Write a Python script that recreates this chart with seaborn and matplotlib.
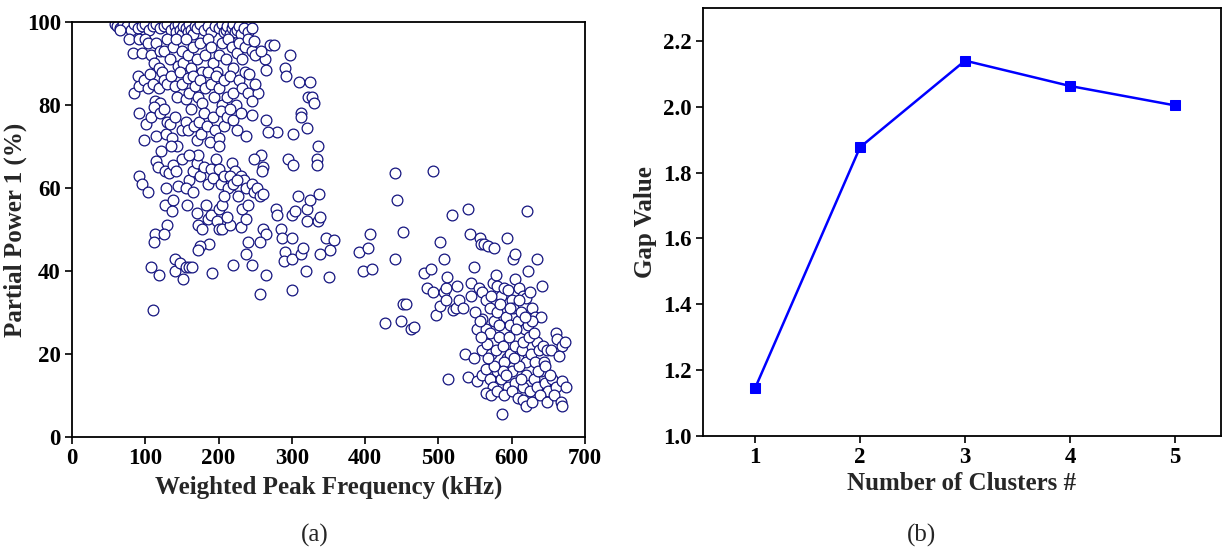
import numpy as np
import pandas as pd
import seaborn as sns
import matplotlib.pyplot as plt

# datos (a): frecuencia pico ponderada (kHz) y potencia parcial 1 (%)
top_x = [58, 62, 66, 70, 75, 80, 85, 90, 95, 100, 105, 110, 115, 120, 125, 130, 135, 140, 142, 145,
         148, 150, 152, 155, 158, 160, 163, 165, 168, 170, 175, 180, 185, 190, 195, 200, 205, 208, 210, 212,
         215, 218, 220, 222, 225, 228, 230, 235, 240, 245]
top_y = [99.5, 99, 98.5, 99.5, 99, 98, 99.5, 98.5, 99, 99.5, 98, 99, 99.5, 98.5, 99, 99.5, 98, 99, 97.5, 99.5,
         98, 97, 99, 98.5, 97.5, 99.5, 98, 97, 99, 98.5, 99.5, 98, 99, 97.5, 99, 98.5, 99.5, 97.5, 98, 99,
         97, 98.5, 99.5, 97.5, 98, 99, 97, 98.5, 97.5, 98.5]

upper_x = [65, 78, 83, 92, 96, 100, 104, 108, 112, 115, 118, 120, 125, 130, 133, 138, 142, 145, 150, 152,
           155, 158, 162, 165, 170, 174, 178, 182, 185, 190, 193, 198, 200, 205, 210, 213, 218, 220, 225, 228,
           232, 236, 240, 245, 248, 250,
           85, 90, 92, 98, 103, 106, 110, 113, 118, 120, 123, 126, 130, 135, 140, 143, 147, 150, 155, 158,
           160, 165, 168, 172, 175, 178, 182, 185, 190, 194, 197, 200, 204, 208, 212, 216, 220, 224, 228, 232,
           236, 240,
           92, 98, 101, 108, 112, 115, 120, 125, 128, 130, 134, 137, 140, 143, 150, 155, 158, 163, 166, 170,
           173, 176, 180, 184, 188, 192, 195, 200, 203, 207, 212, 216, 220, 225, 230, 200,
           115, 117, 122, 127, 132, 135, 138, 142, 150, 160, 165, 170, 172, 175, 180, 185, 190, 193, 197, 201,
           203, 208, 213, 218, 222, 226, 230, 234, 160, 145]
upper_y = [98, 96, 92.5, 96, 92.5, 96, 95, 92, 90, 95, 89, 93, 93, 96, 91, 94, 96, 89.5, 93, 90,
           96, 92, 89, 94, 91, 95, 88, 92, 96, 94, 90, 88, 92, 95, 91, 96, 94, 89, 92.5, 95,
           91, 94, 96, 93, 95.5, 92,
           83, 87, 84.5, 86, 84, 87.5, 85, 81, 84, 80.5, 88, 86, 85, 87, 84.5, 82, 88, 85, 81.5, 86.5,
           83, 87, 84.5, 82, 86, 80.5, 84, 88, 85, 82, 87, 84, 80, 86, 82, 87, 83, 80, 86, 84,
           88, 83,
           78, 71.5, 75.5, 77, 79.5, 72.5, 78, 79, 73, 76, 75.5, 72, 77, 70, 74, 76, 74, 79, 75, 71.5,
           76, 73, 78, 75, 71, 77, 74, 72, 78.5, 75, 77, 79, 76.5, 74, 78, 70,
           66.5, 65, 69, 64, 63.5, 70, 65.5, 64, 67, 62, 64, 66, 68, 63, 65, 61, 64.5, 62.5, 67, 64.5,
           61, 63, 60, 66, 64, 60.5, 63, 62, 68, 60.5]

mid_x = [270, 275, 298, 290, 292, 310, 325, 322, 328, 330, 312, 313, 321, 301, 280, 268, 264, 335, 334, 334,
         295, 302, 258, 260, 259, 248, 263, 264, 258, 254, 245, 245, 238, 250, 242,
         92, 96, 103, 113, 112, 108, 118, 111, 127, 128, 130, 125, 138, 136, 140, 140, 148, 152, 156, 160,
         164, 157, 155, 165, 170, 172, 178, 183, 185, 190, 187, 175, 172, 191, 198, 200, 205, 215, 212, 200,
         204, 207, 215, 220, 225, 227, 232, 230, 238, 240, 238, 245, 248, 252, 256, 260, 260, 265, 256, 240,
         237, 246, 265, 219, 257, 278, 279, 285, 286, 290, 289, 300, 300, 300, 304, 300, 312, 315, 319, 320,
         320, 325, 337, 336, 338, 339, 347, 352, 350, 358, 309]
mid_y = [94.5, 94.5, 92, 89, 87, 85.5, 85.5, 82, 82, 80.5, 78, 77, 74.5, 73, 73.5, 73.5, 76.5, 70, 67, 65.5,
         67, 65.5, 68, 65, 64, 67, 91, 88.5, 93, 83, 81, 77.5, 72.5, 85, 87.5,
         63, 61, 59, 49, 47, 41, 39, 30.5, 56, 60, 51, 49, 57, 54.5, 43, 40, 42, 38, 41, 41,
         41, 56, 60, 59, 54, 51, 50, 56, 52.5, 53.5, 46.5, 46, 45, 39.5, 52, 50, 50, 51, 53, 55,
         56, 58, 63, 61, 62, 58, 55, 50.5, 52.5, 56, 60, 61, 59, 60, 58, 58.5, 50, 49, 47, 47,
         44, 41.5, 39, 41.5, 34.5, 55, 53.5, 50, 48, 44.5, 42.5, 43, 48, 53.5, 54.5, 35.5, 44, 45.5, 40, 52,
         55, 57, 58.5, 52, 53, 44, 48, 45, 38.5, 47.5, 58]

gap_x = [391, 397, 404, 407, 409, 427, 440, 441, 443, 451, 449, 451, 456, 462, 467, 480, 485, 490, 492, 493,
         496, 502, 502, 507, 508, 510, 512, 510, 513, 518, 520, 525, 524, 528, 533, 536, 540, 540, 543, 545,
         545, 548, 549, 552, 553]
gap_y = [44.5, 40, 45.5, 49, 40.5, 27.5, 43, 63.5, 57, 49.5, 28, 32, 32, 26, 26.5, 39.5, 36, 40.5, 64, 35,
         29.5, 47, 31.5, 43, 35, 36, 38.5, 33, 14, 53.5, 30.5, 36.5, 31, 33, 31, 20, 55, 14.5, 49, 37,
         34, 41, 19, 26, 13.5]

low_x = [557, 558, 562, 567, 576, 593, 602, 604, 621, 635, 622, 641, 555, 560, 565, 570, 575, 578, 580, 585,
         590, 595, 600, 605, 610, 615, 620, 625, 628, 632, 640, 560, 565, 570, 576, 580, 584, 589, 592, 597,
         602, 608, 612, 618, 622, 628, 634, 560, 566, 572, 578, 582, 588, 593, 598, 604, 609, 614, 620, 626,
         632, 637, 642, 648, 654, 660, 662, 669, 672, 665, 560, 565, 570, 575, 580, 585, 590, 595, 600, 605,
         610, 615, 620, 625, 630, 635, 640, 645, 650, 655, 660, 668, 674, 565, 572, 580, 590, 600, 608, 615,
         620, 628, 638, 648, 658, 667, 668, 586, 550, 556, 572, 558, 596, 606, 616, 624, 636, 644, 612, 588,
         576, 568, 598, 630, 603, 618, 592, 583, 610, 646, 652]
low_y = [48, 46.5, 46.5, 46, 45.5, 48, 43, 44, 54.5, 43, 40, 36.5, 36, 35, 33, 31, 37, 39, 36.5, 34,
         36, 35.5, 33, 38, 36, 34, 33.5, 35, 31, 29, 29, 28.5, 26, 25, 28, 30, 32, 26, 29, 27,
         31, 28, 30, 26, 27, 28, 23, 21, 22.5, 20, 21, 24, 22, 19, 20, 22, 19, 21, 18, 20,
         18, 21, 22, 21, 21, 25, 23.5, 22, 23, 19.5, 15, 16.5, 14, 12, 16, 14, 18, 12, 16, 13,
         17, 12, 15, 11, 14, 12, 16, 13, 11, 14, 12, 13.5, 12, 10.5, 10, 11, 10, 11, 9.5, 9,
         7.5, 8.5, 10, 8.5, 10, 8.5, 7.5, 5.5, 30, 28, 34, 24, 24, 26, 23, 24, 16, 18, 14, 16,
         17, 19, 31, 25, 19, 29, 15, 27, 33, 17, 15]

# datos del grafico (b): valor gap frente a numero de clusters
clusters = [1, 2, 3, 4, 5]
gap_values = [1.145, 1.877, 2.14, 2.063, 2.004]

freq = top_x + upper_x + mid_x + gap_x + low_x
power = top_y + upper_y + mid_y + gap_y + low_y
df_a = pd.DataFrame({'freq': freq, 'power': power})
df_b = pd.DataFrame({'k': clusters, 'gap': gap_values})

sns.set_style('ticks')
plt.rcParams['font.family'] = ['Liberation Serif', 'DejaVu Serif']
plt.rcParams['font.weight'] = 'bold'

fig = plt.figure(figsize=(12.25, 5.5), dpi=100)
ax1 = fig.add_axes([0.0588, 0.2055, 0.4188, 0.7545])
ax2 = fig.add_axes([0.5735, 0.2073, 0.4235, 0.7782])

# grafico (a)
sns.scatterplot(data=df_a, x='freq', y='power', ax=ax1, marker='o', s=60,
                facecolor='white', edgecolor='#14147f', linewidth=0.9)
ax1.set_xlim(0, 700)
ax1.set_ylim(0, 100)
ax1.set_xticks(range(0, 701, 100))
ax1.set_yticks(range(0, 101, 20))
ax1.set_xlabel('Weighted Peak Frequency (kHz)', fontsize=18, fontweight='bold', labelpad=5)
ax1.set_ylabel('Partial Power 1 (%)', fontsize=18, fontweight='bold', labelpad=0)

# grafico (b)
sns.lineplot(data=df_b, x='k', y='gap', ax=ax2, color='#0000ff', linewidth=1.8,
             marker='s', markersize=7.5, markeredgecolor='#0000ff')
ax2.set_xlim(0.5, 5.44)
ax2.set_ylim(1.0, 2.3)
ax2.set_xticks(clusters)
ax2.set_yticks([1.0, 1.2, 1.4, 1.6, 1.8, 2.0, 2.2])
ax2.set_yticklabels(['1.0', '1.2', '1.4', '1.6', '1.8', '2.0', '2.2'])
ax2.set_xlabel('Number of Clusters #', fontsize=18, fontweight='bold', labelpad=3)
ax2.set_ylabel('Gap Value', fontsize=18, fontweight='bold', labelpad=4)

for ax in (ax1, ax2):
    ax.tick_params(direction='out', length=5, width=1.2, labelsize=16.5, colors='black', pad=3)
    for lab in ax.get_xticklabels() + ax.get_yticklabels():
        lab.set_fontweight('bold')
    for sp in ax.spines.values():
        sp.set_visible(True)
        sp.set_linewidth(1.3)
        sp.set_color('black')

fig.text(0.257, 0.027, '(a)', ha='center', va='center', fontsize=18, fontweight='normal')
fig.text(0.752, 0.027, '(b)', ha='center', va='center', fontsize=18, fontweight='normal')

fig.savefig('out.png', dpi=100)
